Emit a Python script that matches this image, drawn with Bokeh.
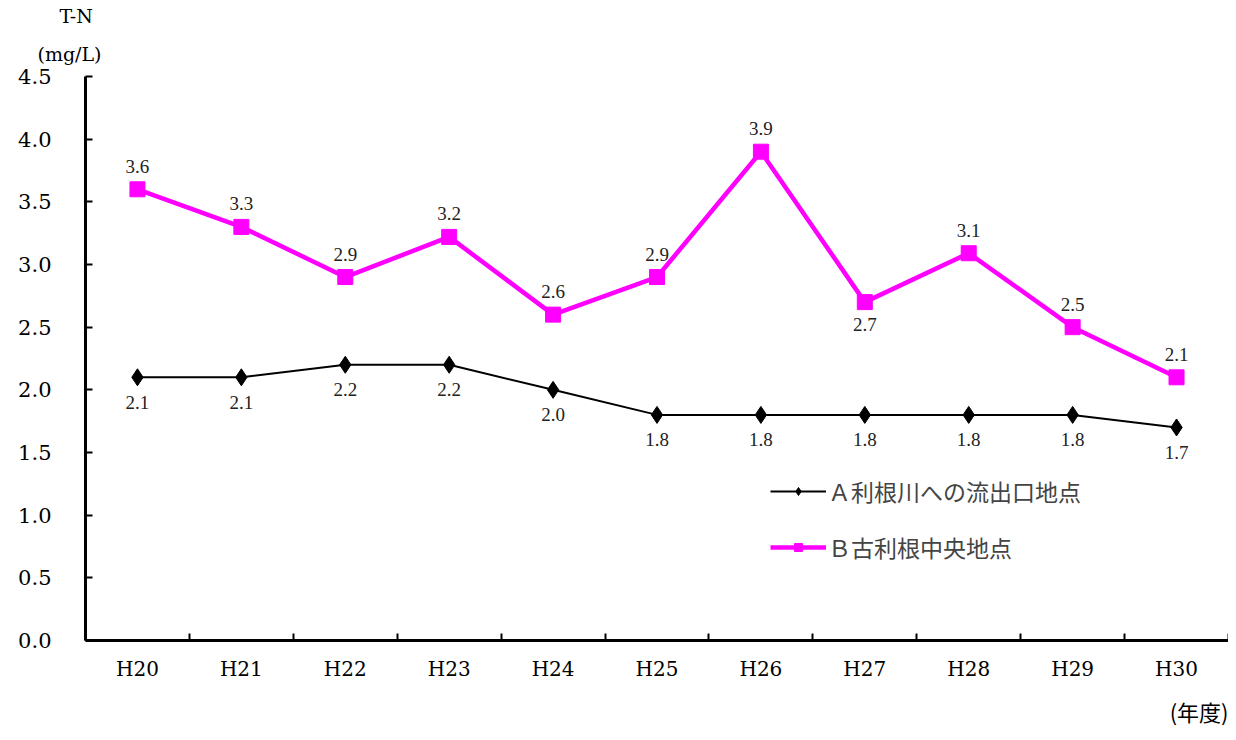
from bokeh.plotting import figure
from bokeh.models import (Range1d, FixedTicker, PrintfTickFormatter, Title, LabelSet,
                          ColumnDataSource, Legend, LegendItem)
from bokeh.embed import file_html
from bokeh.resources import INLINE

years = ["H20", "H21", "H22", "H23", "H24", "H25", "H26", "H27", "H28", "H29", "H30"]
series_a = [2.1, 2.1, 2.2, 2.2, 2.0, 1.8, 1.8, 1.8, 1.8, 1.8, 1.7]
series_b = [3.6, 3.3, 2.9, 3.22, 2.6, 2.9, 3.9, 2.7, 3.09, 2.5, 2.1]
name_a = "Ａ利根川への流出口地点"
name_b = "Ｂ古利根中央地点"
b_label_below = ["H27"]

NUM_FONT = "DejaVu Serif"
CJK_FONT = "Noto Sans CJK JP"

xs = [i + 0.5 for i in range(len(years))]

p = figure(width=1228, height=736, output_backend="svg", toolbar_location=None,
           x_range=Range1d(0, len(years)), y_range=Range1d(0, 4.5),
           min_border_left=85, min_border_right=0, min_border_top=75, min_border_bottom=95)
p.outline_line_color = None
p.xgrid.visible = False
p.ygrid.visible = False
p.background_fill_color = "white"

# x axis: labels at category centers, tick marks at category boundaries
p.xaxis.ticker = FixedTicker(ticks=xs, minor_ticks=list(range(len(years) + 1)))
p.xaxis.major_label_overrides = {x: y for x, y in zip(xs, years)}
p.xaxis.major_tick_in = 0
p.xaxis.major_tick_out = 0
p.xaxis.minor_tick_in = 7
p.xaxis.minor_tick_out = 0
p.xaxis.minor_tick_line_width = 2
p.xaxis.minor_tick_line_color = "black"
p.xaxis.axis_line_width = 3
p.xaxis.axis_line_color = "black"
p.xaxis.major_label_standoff = 16
p.xaxis.major_label_text_font = NUM_FONT
p.xaxis.major_label_text_font_size = "20px"
p.xaxis.major_label_text_color = "black"

p.yaxis.ticker = FixedTicker(ticks=[i * 0.5 for i in range(10)], minor_ticks=[])
p.yaxis.formatter = PrintfTickFormatter(format="%.1f")
p.yaxis.major_tick_in = 7
p.yaxis.major_tick_out = 0
p.yaxis.major_tick_line_width = 2
p.yaxis.minor_tick_in = 0
p.yaxis.minor_tick_out = 0
p.yaxis.axis_line_width = 3
p.yaxis.axis_line_color = "black"
p.yaxis.major_label_standoff = 34
p.yaxis.major_label_text_font = NUM_FONT
p.yaxis.major_label_text_font_size = "21px"
p.yaxis.major_label_text_color = "black"

src_a = ColumnDataSource(dict(x=xs, y=series_a, t=[f"{v:.1f}" for v in series_a],
                              off=[-25] * len(series_a)))
src_b = ColumnDataSource(dict(x=xs, y=series_b, t=[f"{v:.1f}" for v in series_b],
                              off=[-22 if yr in b_label_below else 23 for yr in years]))

la = p.line("x", "y", source=src_a, line_color="black", line_width=2)
sa = p.scatter("x", "y", source=src_a, marker="diamond", size=17,
               fill_color="black", line_color="black")
lb = p.line("x", "y", source=src_b, line_color="#FF00FF", line_width=4.5)
sb = p.scatter("x", "y", source=src_b, marker="square", size=15,
               fill_color="#FF00FF", line_color="#FF00FF")

for src in (src_a, src_b):
    labels = LabelSet(x="x", y="y", text="t", source=src, y_offset="off",
                      text_align="center", text_baseline="middle",
                      text_font=NUM_FONT, text_font_size="19px", text_color="#222222")
    p.add_layout(labels)

legend = Legend(items=[LegendItem(label=name_a, renderers=[la, sa]),
                       LegendItem(label=name_b, renderers=[lb, sb])],
                location=(685, 76), orientation="vertical",
                glyph_width=56, glyph_height=20, label_height=20, spacing=22,
                padding=0, margin=0, label_standoff=2,
                label_text_font=CJK_FONT, label_text_font_size="23px",
                border_line_color=None, background_fill_alpha=0)
p.add_layout(legend, "center")

p.add_layout(Title(text="(mg/L)", align="left", offset=-48, standoff=24,
                   text_font=NUM_FONT, text_font_size="19px", text_font_style="normal",
                   text_color="black"), "above")
p.add_layout(Title(text="T-N", align="left", offset=-26, standoff=4,
                   text_font=NUM_FONT, text_font_size="19px", text_font_style="normal",
                   text_color="black"), "above")
p.add_layout(Title(text="(年度)", align="right", offset=0, standoff=19,
                   text_font=CJK_FONT, text_font_size="22px", text_font_style="normal",
                   text_color="black"), "below")

open("out.html", "w").write(file_html(p, INLINE))
